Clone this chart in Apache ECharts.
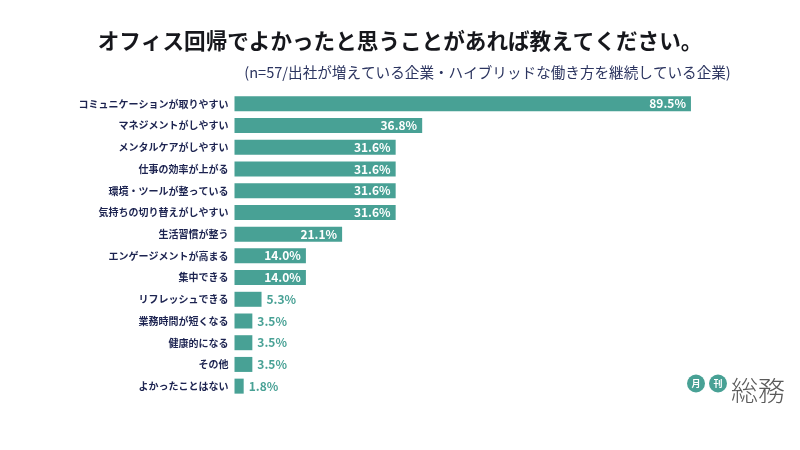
<!DOCTYPE html>
<html>
<head>
<meta charset="utf-8">
<style>html,body{margin:0;padding:0;background:#fff}#chart{width:800px;height:450px}</style>
<script src="https://cdn.jsdelivr.net/npm/echarts@6/dist/echarts.min.js"></script>
</head>
<body>
<div id="chart"></div>
<script>
const categories = ['コミュニケーションが取りやすい','マネジメントがしやすい','メンタルケアがしやすい','仕事の効率が上がる','環境・ツールが整っている','気持ちの切り替えがしやすい','生活習慣が整う','エンゲージメントが高まる','集中できる','リフレッシュできる','業務時間が短くなる','健康的になる','その他','よかったことはない'];
const values = [89.5,36.8,31.6,31.6,31.6,31.6,21.1,14.0,14.0,5.3,3.5,3.5,3.5,1.8];
const titleText = 'オフィス回帰でよかったと思うことがあれば教えてください。';
const subtitleText = '(n=57/出社が増えている企業・ハイブリッドな働き方を継続している企業)';

const font = '"Noto Sans CJK JP"';
const teal = '#48a195';
const navy = '#1c2350';

// 小さい値はラベルをバーの外側に出す
const barData = values.map(v => ({
  value: v,
  label: v < 10
    ? { position: 'right', distance: 5, color: teal }
    : { position: 'insideRight', distance: 5, color: '#fff' }
}));

const myChart = echarts.init(document.getElementById('chart'));
myChart.setOption({
  animation: false,
  backgroundColor: '#fff',
  title: [
    { text: titleText, left: 395, top: 25, textAlign: 'center',
      textStyle: { fontFamily: font, fontSize: 21.6, fontWeight: 700, color: '#16171c' } },
    { text: subtitleText, left: 482.5, top: 60, textAlign: 'center',
      textStyle: { fontFamily: font, fontSize: 14.6, fontWeight: 400, color: '#2c3560' } }
  ],
  grid: { left: 234.5, top: 93, width: 510, height: 304 },
  xAxis: { type: 'value', min: 0, max: 100, show: false },
  yAxis: {
    type: 'category', inverse: true, data: categories,
    axisLine: { show: false }, axisTick: { show: false },
    axisLabel: { margin: 6, fontFamily: font, fontSize: 10, fontWeight: 700, color: navy }
  },
  series: [{
    type: 'bar', data: barData, barWidth: 15,
    itemStyle: { color: teal },
    label: { show: true, formatter: p => p.value.toFixed(1) + '%',
      fontFamily: font, fontSize: 12, fontWeight: 700 }
  }],
  graphic: [
    { type: 'circle', shape: { cx: 696, cy: 383.5, r: 9 }, style: { fill: teal } },
    { type: 'circle', shape: { cx: 718, cy: 383.5, r: 9 }, style: { fill: teal } },
    { type: 'text', x: 696, y: 383.5, style: { text: '月', fill: '#fff', font: '700 9px ' + font, textAlign: 'center', textVerticalAlign: 'middle' } },
    { type: 'text', x: 718, y: 383.5, style: { text: '刊', fill: '#fff', font: '700 9px ' + font, textAlign: 'center', textVerticalAlign: 'middle' } },
    { type: 'text', x: 758, y: 391, style: { text: '総務', fill: '#5a5a5a', font: '300 27px ' + font, textAlign: 'center', textVerticalAlign: 'middle' } }
  ]
});
</script>
</body>
</html>
